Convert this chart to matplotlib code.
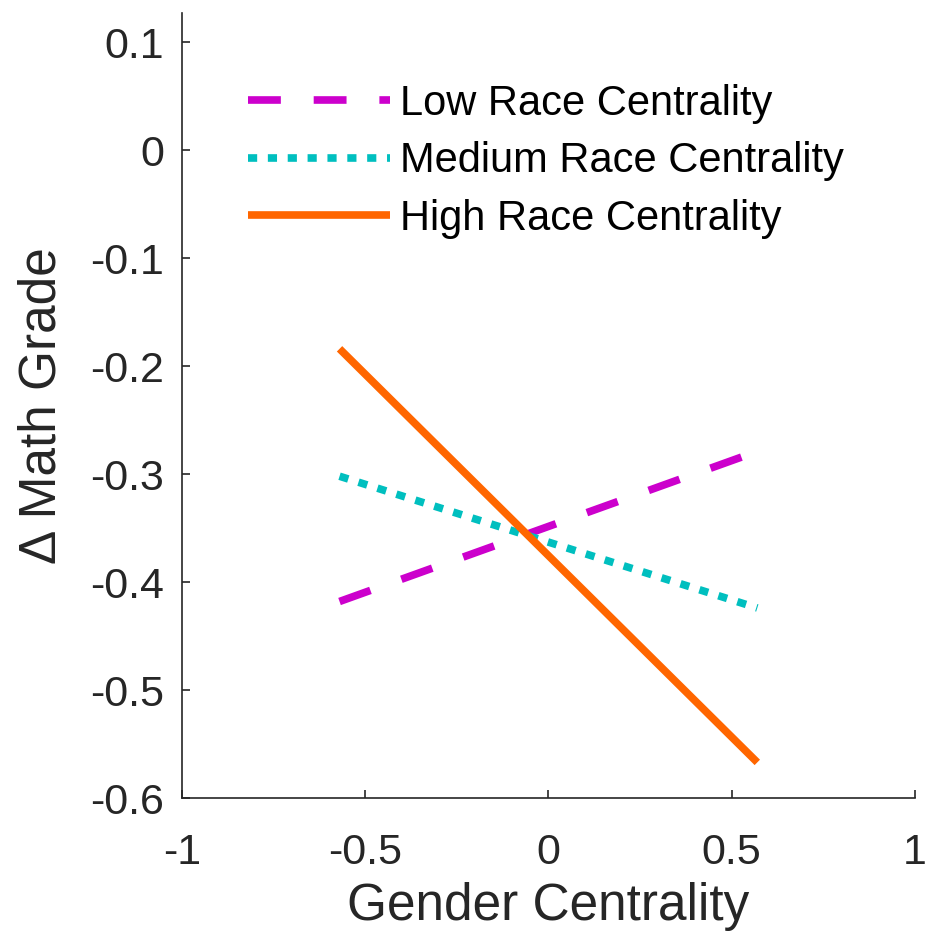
import matplotlib
matplotlib.use('Agg')
import matplotlib.pyplot as plt
import numpy as np

plt.rcParams['font.family'] = ['Liberation Sans', 'DejaVu Sans']

# data (two end points per line)
gender = [-0.57, 0.57]
low_race = [-0.418, -0.279]
med_race = [-0.302, -0.424]
high_race = [-0.184, -0.567]
labels = ['Low Race Centrality', 'Medium Race Centrality', 'High Race Centrality']

fig = plt.figure(figsize=(9.26, 9.48), dpi=100)
ax = fig.add_axes([0.1965, 0.1582, 0.7915, 0.8281])

lw = 5.5
ax.plot(gender, low_race, color='#CC00CC', lw=lw, linestyle=(0, (4.3, 4.3)),
        dash_capstyle='butt', label=labels[0])
ax.plot(gender, med_race, color='#00BFBF', lw=lw, linestyle=(0, (1.2, 1.4)),
        dash_capstyle='butt', label=labels[1])
ax.plot(gender, high_race, color='#FF6600', lw=lw, solid_capstyle='butt',
        label=labels[2])

ax.set_xlim(-1, 1)
ax.set_ylim(-0.6, 0.127)
ax.set_xticks([-1, -0.5, 0, 0.5, 1])
ax.set_xticklabels(['-1', '-0.5', '0', '0.5', '1'])
ax.set_yticks([-0.6, -0.5, -0.4, -0.3, -0.2, -0.1, 0, 0.1])
ax.set_yticklabels(['-0.6', '-0.5', '-0.4', '-0.3', '-0.2', '-0.1', '0', '0.1'])

for s in ['top', 'right']:
    ax.spines[s].set_visible(False)
for s in ['left', 'bottom']:
    ax.spines[s].set_color('#262626')
    ax.spines[s].set_linewidth(1.2)

ax.tick_params(direction='in', length=6, width=1.2, colors='#262626',
               labelsize=31)
ax.tick_params(axis='x', pad=25)
ax.tick_params(axis='y', pad=13)

ax.set_xlabel('Gender Centrality', fontsize=37, color='#262626', labelpad=7)
ax.set_ylabel('Δ Math Grade', fontsize=37, color='#262626', labelpad=17)

ax.legend(loc='upper left', bbox_to_anchor=(0.09, 0.91), frameon=False,
          fontsize=30, handlelength=3.4, handletextpad=0.24, labelspacing=0.42,
          borderaxespad=0, borderpad=0)

plt.savefig('out.png', dpi=100)
